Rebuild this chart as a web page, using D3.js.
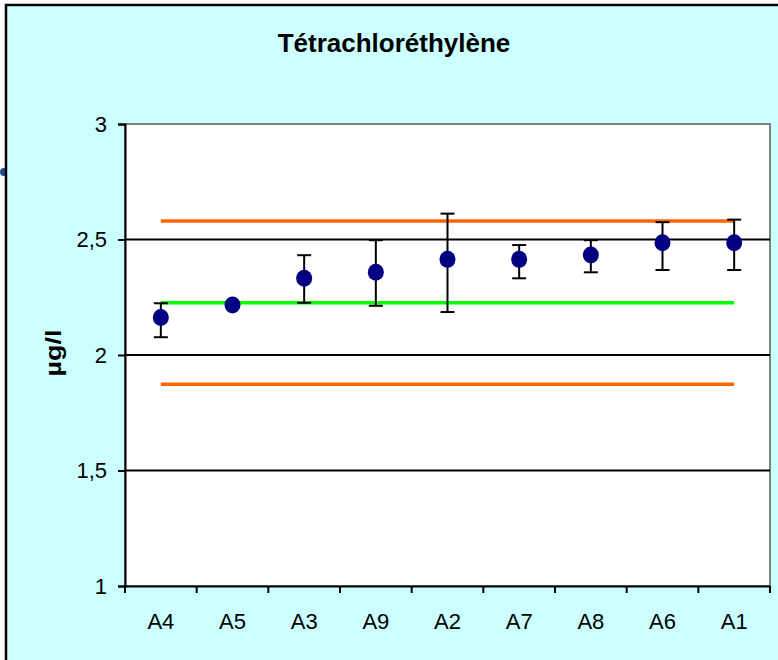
<!DOCTYPE html>
<html><head><meta charset="utf-8">
<script src="https://cdn.jsdelivr.net/npm/d3@7"></script>
<style>body{margin:0;background:#fff}svg{display:block}</style>
</head><body>
<script>
const title = "Tétrachloréthylène";
const yLabel = "µg/l";
const categories = ["A4","A5","A3","A9","A2","A7","A8","A6","A1"];
const means = [2.162, 2.216, 2.332, 2.358, 2.414, 2.414, 2.433, 2.486, 2.486];
const lowers = [2.077, 2.206, 2.226, 2.213, 2.186, 2.332, 2.358, 2.368, 2.368];
const uppers = [2.224, 2.226, 2.432, 2.497, 2.612, 2.476, 2.497, 2.575, 2.586];
const refMean = 2.226;
const refLimits = [2.580, 1.873];
const yTicks = [1, 1.5, 2, 2.5, 3];
const gridValues = [1.5, 2, 2.5];

(function(){
const W = 778, H = 660;
const pL = 125, pR = 770, pT = 124, pB = 586;
const FONT = "Liberation Sans, Arial, sans-serif";

const svg = d3.select("body").append("svg").attr("width", W).attr("height", H);
svg.append("rect").attr("x",0).attr("y",0).attr("width",W).attr("height",H).attr("fill","#fff");
svg.append("circle").attr("cx",4).attr("cy",172).attr("r",4).attr("fill","#1f4e8c");
svg.append("rect").attr("x",6).attr("y",5).attr("width",W+10).attr("height",H+10)
  .attr("fill","#CCFFFF").attr("stroke","#000").attr("stroke-width",2.5);

const x = d3.scaleBand().domain(categories).range([pL, pR]);
const y = d3.scaleLinear().domain([1, 3]).range([pB, pT]);

svg.append("rect").attr("x",pL).attr("y",pT).attr("width",pR-pL).attr("height",pB-pT)
  .attr("fill","#fff").attr("stroke","#808080").attr("stroke-width",2);

svg.append("g").selectAll("line").data(gridValues).join("line")
  .attr("x1",pL).attr("x2",pR).attr("y1",d=>y(d)).attr("y2",d=>y(d))
  .attr("stroke","#000").attr("stroke-width",2);

const yAxis = svg.append("g").attr("transform",`translate(${pL},0)`)
  .call(d3.axisLeft(y).tickValues(yTicks).tickSize(7).tickPadding(11)
    .tickFormat(d => String(d).replace(".", ",")));
yAxis.select(".domain").attr("stroke","#000").attr("stroke-width",2);
yAxis.selectAll(".tick line").attr("stroke","#000").attr("stroke-width",2);
yAxis.selectAll("text").attr("font-family",FONT).attr("font-size",22).attr("fill","#000");

const xAxis = svg.append("g").attr("transform",`translate(0,${pB})`)
  .call(d3.axisBottom(x).tickSize(0).tickPadding(27));
xAxis.select(".domain").attr("stroke","#000").attr("stroke-width",2);
xAxis.selectAll("text").attr("font-family",FONT).attr("font-size",22).attr("fill","#000");
const bounds = categories.map(c => x(c)).concat([pR]);
svg.append("g").selectAll("line").data(bounds).join("line")
  .attr("x1",d=>d).attr("x2",d=>d).attr("y1",pB).attr("y2",pB+7)
  .attr("stroke","#000").attr("stroke-width",2);

const cx = c => x(c) + x.bandwidth()/2;
const x0 = cx(categories[0]), x1 = cx(categories[categories.length-1]);

svg.append("g").selectAll("line").data(refLimits).join("line")
  .attr("x1",x0).attr("x2",x1).attr("y1",d=>y(d)).attr("y2",d=>y(d))
  .attr("stroke","#FF6600").attr("stroke-width",3.5);
svg.append("line").attr("x1",x0).attr("x2",x1).attr("y1",y(refMean)).attr("y2",y(refMean))
  .attr("stroke","#00FF00").attr("stroke-width",3.5);

const eb = svg.append("g").attr("stroke","#000").attr("stroke-width",2);
categories.forEach((c,i) => {
  const px = cx(c);
  eb.append("line").attr("x1",px).attr("x2",px).attr("y1",y(lowers[i])).attr("y2",y(uppers[i]));
  eb.append("line").attr("x1",px-7).attr("x2",px+7).attr("y1",y(lowers[i])).attr("y2",y(lowers[i]));
  eb.append("line").attr("x1",px-7).attr("x2",px+7).attr("y1",y(uppers[i])).attr("y2",y(uppers[i]));
});

svg.append("g").selectAll("ellipse").data(categories).join("ellipse")
  .attr("cx",c=>cx(c)).attr("cy",(c,i)=>y(means[i])).attr("rx",8).attr("ry",8.5)
  .attr("fill","#000080");

svg.append("text").attr("x",394).attr("y",52).attr("text-anchor","middle")
  .attr("font-family",FONT).attr("font-weight","bold")
  .attr("font-size",26).attr("fill","#000").text(title);

svg.append("text").attr("transform","translate(61,353) rotate(-90)").attr("text-anchor","middle")
  .attr("font-family",FONT).attr("font-weight","bold")
  .attr("font-size",22).attr("textLength",47).attr("lengthAdjust","spacingAndGlyphs")
  .attr("fill","#000").text(yLabel);
})();
</script>
</body></html>
